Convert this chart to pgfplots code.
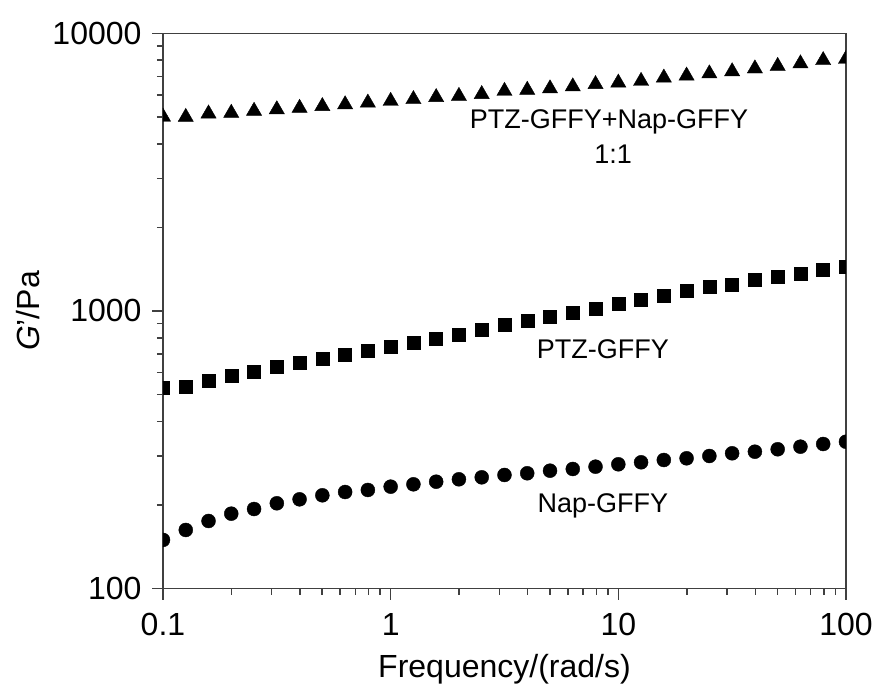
\documentclass[border=0pt]{standalone}
\usepackage{pgfplots}
\pgfplotsset{compat=1.18}
\usepackage{pgfplotstable}
\usepackage{fontspec}
\setmainfont{Liberation Sans}

\pgfplotstableread{
x       nap    ptz   mix
0.1     149.8  529   5000
0.1259  162.7  534   4990
0.1585  175.3  560   5134
0.1995  186.3  583   5163
0.2512  193.6  605   5250
0.3162  203.0  630   5317
0.3981  209.8  651   5380
0.5012  216.9  672   5460
0.6310  222.9  694   5540
0.7943  226.7  719   5620
1.0     233.0  744   5700
1.259   237.6  769   5785
1.585   242.8  797   5882
1.995   247.7  824   5940
2.512   251.8  859   6030
3.162   256.7  890   6193
3.981   260.4  923   6249
5.012   266.0  954   6323
6.310   269.8  986   6428
7.943   275.0  1023  6551
10.0    280.5  1060  6634
12.59   285.2  1102  6728
15.85   290.7  1135  6915
19.95   294.8  1180  7030
25.12   300.5  1220  7160
31.62   307.3  1248  7285
39.81   311.4  1293  7462
50.12   317.7  1329  7618
63.10   324.6  1367  7780
79.43   331.9  1405  7994
100.0   338.2  1444  8074
}\data

\begin{document}
\begin{tikzpicture}
\begin{axis}[
  scale only axis,
  width=683pt, height=555.4pt,
  xmode=log, ymode=log,
  xmin=0.1, xmax=100, ymin=100, ymax=10000,
  xtick={0.1,1,10,100}, xticklabels={0.1,1,10,100},
  ytick={100,1000,10000}, yticklabels={100,1000,10000},
  tick align=outside,
  xtick pos=bottom, ytick pos=left,
  major tick length=11pt, minor tick length=6pt,
  axis line style={black!75, line width=1.5pt},
  every tick/.style={black!75, line width=1.5pt},
  tick label style={font=\fontsize{32}{38}\selectfont, text=black},
  xticklabel style={yshift=-10pt},
  yticklabel style={xshift=-7pt},
  label style={font=\fontsize{32}{38}\selectfont},
  xlabel={Frequency/(rad/s)},
  ylabel={\textit{G}’/Pa},
  xlabel style={at={(rel axis cs:0.5,0)}, anchor=base, yshift=-89pt},
  ylabel style={at={(rel axis cs:0,0.5)}, anchor=north, yshift=150pt},
  clip marker paths=true,
]
\addplot[only marks, mark=*, mark size=7pt, black] table[x=x, y=nap] {\data};
\addplot[only marks, mark=square*, mark size=6.5pt, black] table[x=x, y=ptz] {\data};
\addplot[only marks, mark=triangle*, mark size=8.8pt, black] table[x=x, y=mix] {\data};
\node[font=\fontsize{27}{32}\selectfont] at (rel axis cs:0.653,0.840) {PTZ-GFFY+Nap-GFFY};
\node[font=\fontsize{27}{32}\selectfont] at (rel axis cs:0.659,0.783) {1:1};
\node[font=\fontsize{27}{32}\selectfont] at (rel axis cs:0.644,0.432) {PTZ-GFFY};
\node[font=\fontsize{27}{32}\selectfont] at (rel axis cs:0.644,0.149) {Nap-GFFY};
\coordinate (bl) at (rel axis cs:0,0);
\coordinate (tr) at (rel axis cs:1,1);
\end{axis}
\path ([shift={(-163pt,-102.3pt)}]bl) rectangle ([shift={(30pt,33.3pt)}]tr);
\end{tikzpicture}
\end{document}
